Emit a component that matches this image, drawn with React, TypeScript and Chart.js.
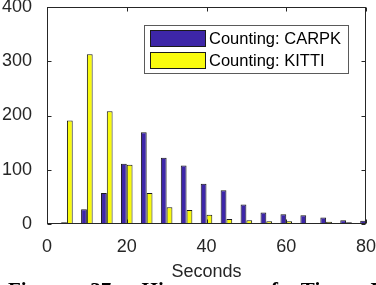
import React, { useEffect, useRef } from "react";
import { Chart, registerables } from "chart.js";

Chart.register(...registerables);

const binCenters = [5, 10, 15, 20, 25, 30, 35, 40, 45, 50, 55, 60, 65, 70, 75, 80];
const carpk = [3, 27, 57, 111, 169, 122, 108, 74, 62, 36, 21, 18, 16, 12, 7, 6];
const kitti = [191, 313, 208, 109, 57, 31, 26, 17, 9, 7, 5, 5, 2, 4, 3, 1];
const xTicks = [0, 20, 40, 60, 80];
const yTicks = [0, 100, 200, 300, 400];
const seriesLabels = ["Counting: CARPK", "Counting: KITTI"];
const seriesColors = ["#3d26a8", "#f9fb0e"];
const xTitle = "Seconds";
const caption = "Figure 37: Histogram of Time D";

const FONT = "'Liberation Sans', Arial, Helvetica, sans-serif";
const AXIS = "#262626";

const boxPlugin = {
  id: "matlabBox",
  afterDatasetsDraw(chart: any) {
    const { ctx, chartArea: a, scales } = chart;
    ctx.save();
    ctx.strokeStyle = AXIS;
    ctx.lineWidth = 1;
    const L = Math.round(a.left) + 0.5;
    const R = Math.round(a.right) - 0.5;
    const T = Math.round(a.top) + 0.5;
    const B = Math.round(a.bottom) - 0.5;
    ctx.strokeRect(L, T, R - L, B - T);
    const tl = 4;
    ctx.beginPath();
    xTicks.forEach((v) => {
      const px = Math.round(scales.x.getPixelForValue(v)) + 0.5;
      ctx.moveTo(px, B);
      ctx.lineTo(px, B - tl);
      ctx.moveTo(px, T);
      ctx.lineTo(px, T + tl);
    });
    yTicks.forEach((v) => {
      const py = Math.round(scales.y.getPixelForValue(v)) + 0.5;
      ctx.moveTo(L, py);
      ctx.lineTo(L + tl, py);
      ctx.moveTo(R, py);
      ctx.lineTo(R - tl, py);
    });
    ctx.stroke();

    // x title
    ctx.fillStyle = AXIS;
    ctx.font = `18px ${FONT}`;
    ctx.textAlign = "center";
    ctx.textBaseline = "alphabetic";
    ctx.fillText(xTitle, (a.left + a.right) / 2, a.bottom + 53);

    // legend
    const lx = Math.round(a.left) + 97;
    const ly = Math.round(a.top) + 18;
    const lw = 204;
    const lh = 48;
    ctx.fillStyle = "#ffffff";
    ctx.fillRect(lx, ly, lw, lh);
    ctx.strokeStyle = "#5a5a5a";
    ctx.lineWidth = 1;
    ctx.strokeRect(lx + 0.5, ly + 0.5, lw, lh);
    seriesLabels.forEach((lab, i) => {
      const sy = ly + 5 + i * 22;
      ctx.fillStyle = seriesColors[i];
      ctx.fillRect(lx + 6, sy, 56, 17);
      ctx.strokeStyle = "#1a1a1a";
      ctx.strokeRect(lx + 6.5, sy + 0.5, 55, 16);
      ctx.fillStyle = "#000000";
      ctx.font = `16.5px ${FONT}`;
      ctx.textAlign = "left";
      ctx.textBaseline = "middle";
      ctx.fillText(lab, lx + 65, sy + 9);
    });
    ctx.restore();
  },
};

export default function App() {
  const ref = useRef<HTMLCanvasElement | null>(null);

  useEffect(() => {
    if (!ref.current) return;
    const chart = new Chart(ref.current, {
      type: "bar",
      data: {
        datasets: [
          {
            label: seriesLabels[0],
            data: binCenters.map((x, i) => ({ x, y: carpk[i] })),
            backgroundColor: seriesColors[0],
            borderColor: "#1a1a1a",
            borderWidth: 1,
            categoryPercentage: 0.58,
            barPercentage: 1,
          },
          {
            label: seriesLabels[1],
            data: binCenters.map((x, i) => ({ x, y: kitti[i] })),
            backgroundColor: seriesColors[1],
            borderColor: "#1a1a1a",
            borderWidth: 1,
            categoryPercentage: 0.58,
            barPercentage: 1,
          },
        ],
      },
      options: {
        responsive: false,
        animation: false,
        layout: { padding: { top: 7, right: 10, left: 0, bottom: 0 } },
        plugins: { legend: { display: false }, tooltip: { enabled: false } },
        scales: {
          x: {
            type: "linear",
            min: 0,
            max: 80,
            offset: false,
            grid: { display: false, offset: false },
            border: { display: false },
            ticks: {
              stepSize: 20,
              autoSkip: false,
              maxRotation: 0,
              color: AXIS,
              padding: 4,
              font: { family: FONT, size: 18 },
            },
            afterFit: (s: any) => {
              s.height = 61;
              s.paddingLeft = 0;
              s.paddingRight = 0;
              s.paddingTop = 0;
              s.paddingBottom = 0;
            },
          },
          y: {
            min: 0,
            max: 400,
            grid: { display: false },
            border: { display: false },
            ticks: {
              stepSize: 100,
              color: AXIS,
              padding: 7,
              font: { family: FONT, size: 18 },
            },
            afterFit: (s: any) => {
              s.width = 47;
              s.paddingLeft = 0;
              s.paddingRight = 0;
              s.paddingTop = 0;
              s.paddingBottom = 0;
            },
          },
        },
      },
      plugins: [boxPlugin],
    } as any);
    return () => chart.destroy();
  }, []);

  return (
    <div
      style={{
        position: "fixed",
        left: 0,
        top: 0,
        width: 376,
        height: 285,
        overflow: "hidden",
        background: "#ffffff",
      }}
    >
      <canvas ref={ref} width={376} height={285} style={{ display: "block" }} />
      <div
        style={{
          position: "absolute",
          left: 8,
          top: 278,
          whiteSpace: "nowrap",
          font: "bold 21px 'Liberation Serif', 'Times New Roman', serif",
          lineHeight: "24px",
          wordSpacing: 18,
          color: "#000",
        }}
      >
        {caption}
      </div>
    </div>
  );
}
